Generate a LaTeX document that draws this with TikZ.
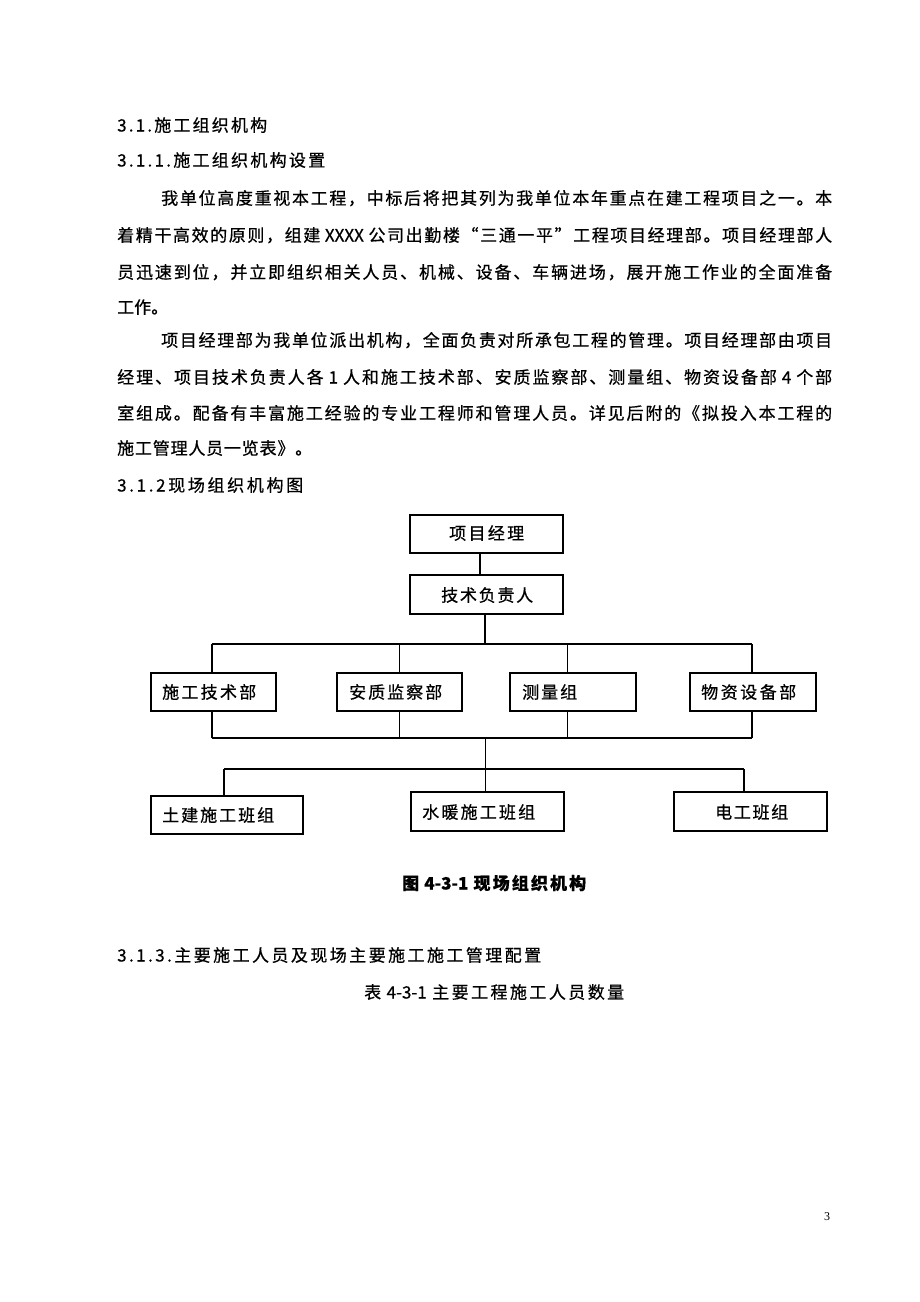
\documentclass[tikz,border=0pt]{standalone}
\usepackage{fontspec}
\setmainfont{Noto Sans CJK SC}[FakeBold=0.6]
\newfontfamily\tnr{Liberation Serif}
\makeatletter
\def\sp@end{}
\def\spreadto#1#2{\hbox to #1{\sp@A#2\sp@end}}
\def\sp@A#1{#1\futurelet\sp@next\sp@B}
\def\sp@B{\ifx\sp@next\sp@end\expandafter\@gobble\else\hskip 0pt plus 1fil\expandafter\sp@A\fi}
\makeatother
\begin{document}
\begin{tikzpicture}[x=1pt,y=-1pt,
  box/.style={draw=black, line width=1.2pt, inner sep=0pt},
  conn/.style={draw=black, line width=1.1pt},
  txt/.style={anchor=base west, inner sep=0pt, font=\fontsize{17}{20}\selectfont},
  pgnum/.style={inner sep=0pt, font=\tnr\fontsize{12}{14}\selectfont}]
\useasboundingbox[fill=white] (0,0) rectangle (920,1302);

% ---- body text ----
\node[txt] (h1) at (117,131.5) {\spreadto{150pt}{3.1.施工组织机构}};
\node[txt] (h2) at (117,166.5) {\spreadto{208pt}{3.1.1.施工组织机构设置}};
\node[txt] (p1) at (161,204.5) {\spreadto{671pt}{我单位高度重视本工程，中标后将把其列为我单位本年重点在建工程项目之一。本}};
\node[txt] (p2) at (117,241.5) {\spreadto{715pt}{着精干高效的原则，组建{\kern3pt XXXX\kern3pt}公司出勤楼“三通一平”工程项目经理部。项目经理部人}};
\node[txt] (p3) at (117,278.5) {\spreadto{715pt}{员迅速到位，并立即组织相关人员、机械、设备、车辆进场，展开施工作业的全面准备}};
\node[txt] (p4) at (117,313.5) {工作。};
\node[txt] (p5) at (161,346.5) {\spreadto{671pt}{项目经理部为我单位派出机构，全面负责对所承包工程的管理。项目经理部由项目}};
\node[txt] (p6) at (117,383.5) {\spreadto{715pt}{经理、项目技术负责人各{\kern3pt 1\kern3pt}人和施工技术部、安质监察部、测量组、物资设备部{\kern3pt 4\kern3pt}个部}};
\node[txt] (p7) at (117,419.5) {\spreadto{715pt}{室组成。配备有丰富施工经验的专业工程师和管理人员。详见后附的《拟投入本工程的}};
\node[txt] (p8) at (117,454.5) {\spreadto{195pt}{施工管理人员一览表》。}};
\node[txt] (h3) at (117,491.5) {\spreadto{186pt}{3.1.2现场组织机构图}};

% ---- org chart boxes ----
\node[box, minimum width=153pt, minimum height=38pt] (pm) at (486.5,534) {};
\node[box, minimum width=153pt, minimum height=39pt] (tl) at (486.5,594.5) {};
\node[box, minimum width=125pt, minimum height=38pt] (b1) at (213.5,692) {};
\node[box, minimum width=125pt, minimum height=38pt] (b2) at (399.5,692) {};
\node[box, minimum width=126pt, minimum height=38pt] (b3) at (573,692) {};
\node[box, minimum width=126pt, minimum height=38pt] (b4) at (753,692) {};
\node[box, minimum width=152pt, minimum height=38pt] (tu) at (227,815) {};
\node[box, minimum width=153pt, minimum height=39pt] (wa) at (487.5,811.5) {};
\node[box, minimum width=153pt, minimum height=39pt] (dg) at (750.5,811.5) {};

% ---- org chart labels ----
\node[txt] (pmT) at (449,539.5) {\spreadto{75pt}{项目经理}};
\node[txt] (tlT) at (441,601.5) {\spreadto{92pt}{技术负责人}};
\node[txt] (b1T) at (162,698.5) {\spreadto{94pt}{施工技术部}};
\node[txt] (b2T) at (349,698.5) {\spreadto{93pt}{安质监察部}};
\node[txt] (b3T) at (522,698.5) {\spreadto{55pt}{测量组}};
\node[txt] (b4T) at (701,698.5) {\spreadto{95pt}{物资设备部}};
\node[txt] (tuT) at (162,821.5) {\spreadto{112pt}{土建施工班组}};
\node[txt] (waT) at (422,818.5) {\spreadto{113pt}{水暖施工班组}};
\node[txt] (dgT) at (715,818.5) {\spreadto{73pt}{电工班组}};

% ---- connectors ----
\coordinate (pmX) at ([xshift=-6.5pt]pm.south);
\coordinate (tlX) at ([xshift=-1.5pt]tl.south);
\coordinate (b3X) at ([xshift=-5.5pt]b3.south);
\coordinate (waX) at ([xshift=-1.7pt]wa.north);
\coordinate (busA) at (212,644);
\coordinate (busB) at (752,644);
\coordinate (busC) at (212,738);
\coordinate (busD) at (752,738);
\coordinate (busE) at (224,769);
\coordinate (busF) at (744,769);

\draw[conn] (pmX) -- (pmX |- tl.north);
\draw[conn] (tlX) -- (tlX |- busA);
\draw[conn] (busA) -- (busB);
\draw[conn] (busA) -- (busA |- b1.north);
\draw[conn] (b2.north |- busA) -- (b2.north);
\draw[conn] (b3X |- busA) -- (b3X |- b3.north);
\draw[conn] (busB) -- (busB |- b4.north);

\draw[conn] (busC) -- (busD);
\draw[conn] (busC |- b1.south) -- (busC);
\draw[conn] (b2.south) -- (b2.south |- busC);
\draw[conn] (b3X) -- (b3X |- busC);
\draw[conn] (busD |- b4.south) -- (busD);

\draw[conn] (waX |- busC) -- (waX);
\draw[conn] (busE) -- (busF);
\draw[conn] (busE) -- (busE |- tu.north);
\draw[conn] (busF) -- (busF |- dg.north);

% ---- caption and following text ----
\node[txt, font=\fontsize{17}{20}\selectfont\bfseries] (cap) at (402,889.5) {\spreadto{184pt}{图{\kern3pt 4-3-1\kern3pt}现场组织机构}};
\node[txt] (h4) at (117,961.5) {\spreadto{424pt}{3.1.3.主要施工人员及现场主要施工施工管理配置}};
\node[txt] (tab) at (364,998.5) {\spreadto{260pt}{表{\kern3pt 4-3-1\kern3pt}主要工程施工人员数量}};

\node[pgnum] (pg) at (827,1217) {3};
\end{tikzpicture}
\end{document}
